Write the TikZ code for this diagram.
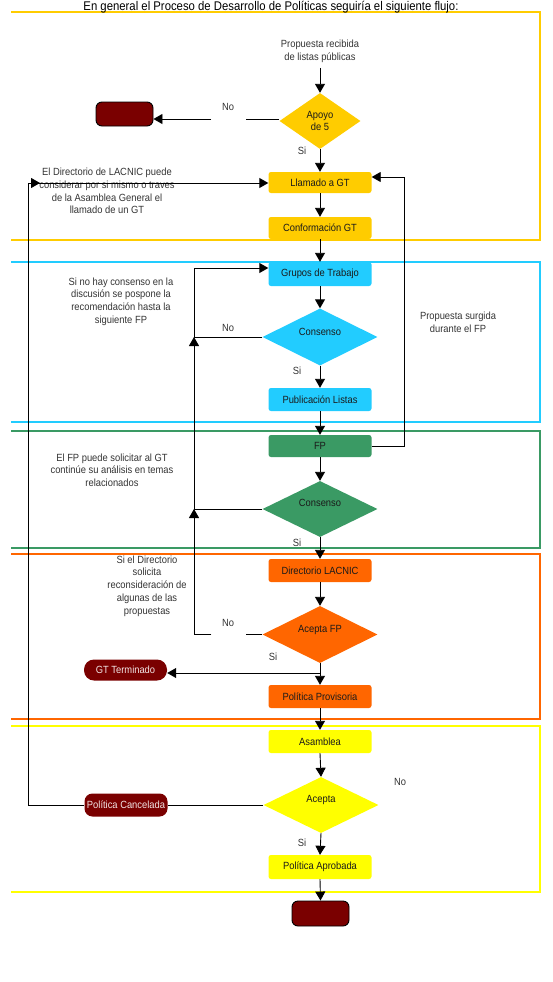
\documentclass[tikz,border=0pt]{standalone}
\usepackage{fontspec}
\setmainfont{Liberation Sans}[FakeStretch=0.9]
\usetikzlibrary{shapes.geometric,arrows.meta,calc}
\definecolor{cgold}{HTML}{FFCC00}
\definecolor{ccyan}{HTML}{22CCFF}
\definecolor{cgreen}{HTML}{3A9A64}
\definecolor{corange}{HTML}{FF6600}
\definecolor{cyel}{HTML}{FFFF00}
\definecolor{cdred}{HTML}{7A0000}
\definecolor{ctext}{HTML}{333333}
\definecolor{cbox}{HTML}{1A1A1A}
\definecolor{cwtext}{HTML}{F2E6E6}
\begin{document}
\begin{tikzpicture}[x=1pt,y=-1pt,
  frame/.style={line width=1.7pt},
  box/.style={rounded corners=2.5pt, minimum width=103pt, minimum height=23pt, inner sep=0pt,
    text=cbox, font=\fontsize{10.4}{11}\selectfont},
  dec/.style={diamond, inner sep=0pt, minimum width=115pt, minimum height=57pt,
    text=cbox, font=\fontsize{10.4}{11}\selectfont},
  term/.style={rounded corners=6pt, minimum width=57pt, minimum height=24pt, inner sep=0pt,
    fill=cdred, draw=black, line width=0.9pt},
  pill/.style={rounded corners=10pt, minimum width=83pt, minimum height=21pt, inner sep=0pt,
    fill=cdred, text=cwtext, font=\fontsize{10.4}{11}\selectfont},
  note/.style={align=center, text=ctext, font=\fontsize{10.4}{12.7}\selectfont, inner sep=0pt},
  lbl/.style={text=ctext, font=\fontsize{10.4}{11}\selectfont, inner sep=0pt},
  arr/.style={line width=0.9pt, -{Triangle[length=9pt,width=10pt]}},
  ln/.style={line width=0.9pt}]
\path[use as bounding box] (0,0) rectangle (552,982);

% section frames (top, right, bottom)
\draw[frame, cgold]   (11,12)  -- (540,12)  -- (540,240) -- (11,240);
\draw[frame, ccyan]   (11,262) -- (540,262) -- (540,422) -- (11,422);
\draw[frame, cgreen]  (11,431) -- (540,431) -- (540,548) -- (11,548);
\draw[frame, corange] (11,554) -- (540,554) -- (540,719) -- (11,719);
\draw[frame, cyel]    (11,726) -- (540,726) -- (540,892) -- (11,892);

\node[font=\fontsize{12.6}{14}\selectfont, inner sep=0pt] (title) at (271,7.5)
  {En general el Proceso de Desarrollo de Políticas seguiría el siguiente flujo:};

% main column
\node[note] (prop) at (320,51.5) {Propuesta recibida\\de listas públicas};
\coordinate (pin) at (320,68);
\node[dec, fill=cgold, minimum width=81pt, minimum height=56pt, align=center,
  font=\fontsize{10.4}{12}\selectfont] (apoyo) at (320,121) {Apoyo\\de 5};
\node[term] (t1) at (124.5,114) {};
\node[box, fill=cgold, minimum height=21pt] (llamado) at (320,182.5) {Llamado a GT};
\node[box, fill=cgold, minimum height=22pt] (conf) at (320,228) {Conformación GT};
\node[box, fill=ccyan, minimum height=24pt] (grupos) at (320,274) {Grupos de Trabajo};
\node[dec, fill=ccyan, label={[lbl, text=cbox, yshift=5pt]center:Consenso}] (cons1) at (320,337) {};
\node[box, fill=ccyan] (publ) at (320,399.5) {Publicación Listas};
\node[box, fill=cgreen, minimum height=22pt] (fp) at (320,446) {FP};
\node[dec, fill=cgreen, minimum height=56pt, label={[lbl, text=cbox, yshift=6pt]center:Consenso}] (cons2) at (320,509) {};
\node[box, fill=corange] (direc) at (320,570.5) {Directorio LACNIC};
\node[dec, fill=corange, label={[lbl, text=cbox, yshift=5pt]center:Acepta FP}] (acfp) at (320,634.5) {};
\node[pill] (gtt) at (125.5,670) {GT Terminado};
\node[box, fill=corange] (prov) at (320,696.5) {Política Provisoria};
\node[box, fill=cyel] (asam) at (320,741.5) {Asamblea};
\node[dec, fill=cyel, minimum height=56pt, label={[lbl, text=cbox, yshift=5pt]center:Acepta}] (acep) at (321,805) {};
\node[pill, minimum height=23pt, rounded corners=8pt] (pc) at (126,805) {Política Cancelada};
\node[box, fill=cyel, minimum height=24pt] (aprob) at (320,867) {Política Aprobada};
\node[term, minimum height=25pt] (t2) at (320.5,913.5) {};

% notes
\node[note] (n1) at (107,191) {El Directorio de LACNIC puede\\considerar por si mismo o traves\\de la Asamblea General el\\llamado de un GT};
\node[note] (n2) at (121,301.5) {Si no hay consenso en la\\discusión se pospone la\\recomendación hasta la\\siguiente FP};
\node[note] (n3) at (112,470) {El FP puede solicitar al GT\\continúe su análisis en temas\\relacionados};
\node[note] (n4) at (147,586) {Si el Directorio\\solicita\\reconsideración de\\algunas de las\\propuestas};
\node[note] (n5) at (458,322) {Propuesta surgida\\durante el FP};

% labels
\node[lbl] (no1) at (228,107) {No};
\node[lbl] (si1) at (302,151) {Si};
\node[lbl] (no2) at (228,328) {No};
\node[lbl] (si2) at (297,371) {Si};
\node[lbl] (si3) at (297,543) {Si};
\node[lbl] (no3) at (228,623) {No};
\node[lbl] (si4) at (273,657) {Si};
\node[lbl] (no4) at (400,782) {No};
\node[lbl] (si5) at (302,843) {Si};

% vertical flow
\draw[arr] (pin) -- (apoyo.north);
\draw[arr] (apoyo.south) -- (llamado.north);
\draw[arr] (llamado.south) -- (conf.north);
\draw[arr] (conf.south) -- (grupos.north);
\draw[arr] (grupos.south) -- (cons1.north);
\draw[arr] (cons1.south) -- (publ.north);
\draw[arr] (publ.south) -- (fp.north);
\draw[arr] (fp.south) -- (cons2.north);
\draw[arr] (cons2.south) -- (direc.north);
\draw[arr] (direc.south) -- (acfp.north);
\draw[arr] (acfp.south) -- (prov.north);
\draw[arr] (prov.south) -- (asam.north);
\draw[arr] (asam.south) -- (acep.north);
\draw[arr] (acep.south) -- (aprob.north);
\draw[arr] (aprob.south) -- (t2.north);

% Apoyo de 5 -> No
\coordinate (a1) at (279,119);
\draw[arr] (a1) -- ++(-33,0) ++(-35,0) -- (a1 -| t1.east);

% Consenso loops
\coordinate (j1) at (194,268);
\coordinate (j2) at (194,337);
\coordinate (j3) at (194,509);
\draw[arr] (cons1.west) -| (j1) -- (j1 -| grupos.west);
\draw[arr] (cons2.west) -| (j2);
\draw[arr] (acfp.west) -- ++(-16,0) ++(-35,0) -| (j3);

% GT terminado
\coordinate (b1) at (320,673);
\draw[arr] (b1) -- (b1 -| gtt.east);

% FP -> Llamado (right side)
\coordinate (r1) at (404,177);
\draw[arr] (fp.east) -| (r1) -- (r1 -| llamado.east);

% Acepta -> Cancelada -> Llamado
\coordinate (l1) at (28,183);
\draw[ln] (acep.west) -- (acep.west -| pc.east);
\draw[ln] (pc.west) -| (l1);
\draw[arr] (l1) -- (l1 -| llamado.west);
\draw[arr] (l1) -- ++(12,0);
\end{tikzpicture}
\end{document}
